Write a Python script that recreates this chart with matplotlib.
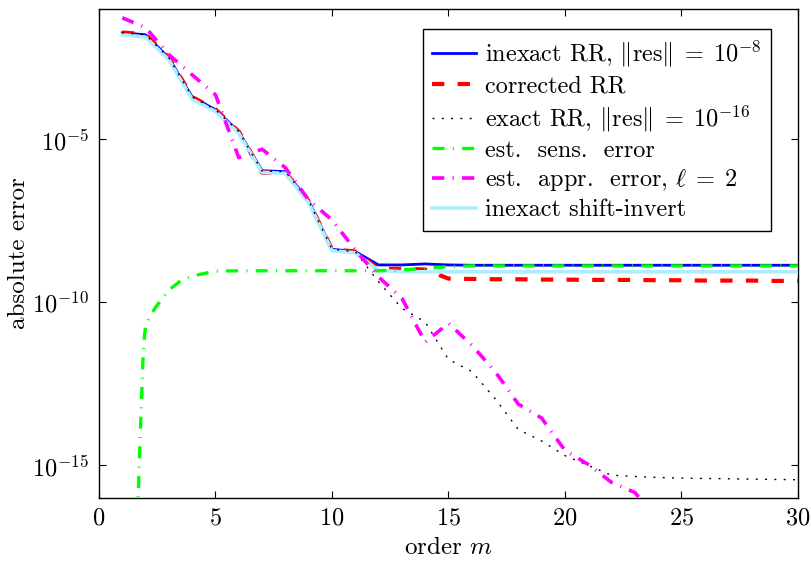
import numpy as np
import matplotlib
matplotlib.use("Agg")
import matplotlib.pyplot as plt
from matplotlib.ticker import NullLocator, LogFormatterMathtext

plt.rcParams['font.family'] = 'serif'
plt.rcParams['font.serif'] = ['cmr10']
plt.rcParams['mathtext.fontset'] = 'cm'
plt.rcParams['axes.formatter.use_mathtext'] = True

# ---- data (log10 of absolute error) ----
m = list(range(1, 31))

blue_log = [-1.73, -1.79, -2.50, -3.70, -4.09, -4.76, -5.96, -5.99, -6.88, -8.37,
            -8.44, -8.85, -8.85, -8.82, -8.85, -8.86, -8.86, -8.86, -8.86, -8.86,
            -8.86, -8.86, -8.86, -8.86, -8.86, -8.86, -8.86, -8.86, -8.86, -8.86]

red_log = [-1.72, -1.78, -2.49, -3.70, -4.08, -4.76, -6.02, -6.01, -6.90, -8.37,
           -8.44, -8.97, -8.97, -8.99, -9.27, -9.28, -9.29, -9.29, -9.30, -9.30,
           -9.31, -9.31, -9.31, -9.32, -9.32, -9.33, -9.33, -9.33, -9.34, -9.34]

black_log = [-1.73, -1.79, -2.50, -3.70, -4.09, -4.76, -5.97, -5.99, -6.88, -8.37,
             -8.44, -9.37, -10.18, -10.60, -11.75, -12.12, -12.95, -13.90, -14.25, -14.70,
             -15.00, -15.30, -15.34, -15.37, -15.39, -15.40, -15.41, -15.42, -15.43, -15.44]

green_m = [1.65, 1.8, 1.9, 1.95, 2.0, 2.2, 2.5, 3.0, 3.5, 4.0, 5.0, 6, 7, 8, 9, 10,
           11, 12, 13, 14, 15, 16, 17, 18, 19, 20, 21, 22, 23, 24, 25, 26, 27, 28, 29, 30]
green_log = [-16.6, -13.5, -11.53, -11.04, -10.73, -10.40, -10.08, -9.62, -9.34, -9.19, -9.04,
             -9.03, -9.03, -9.03, -9.03, -9.03, -9.03, -9.03, -9.00, -8.96, -8.90, -8.88,
             -8.88, -8.88, -8.88, -8.88, -8.88, -8.88, -8.88, -8.88, -8.88, -8.88, -8.88,
             -8.88, -8.88, -8.88]

magenta_m = list(range(1, 25))
magenta_log = [-1.27, -1.57, -2.40, -3.02, -3.63, -5.56, -5.30, -5.87, -6.86, -7.47,
               -8.39, -9.22, -9.87, -11.22, -10.64, -11.31, -12.12, -13.12, -13.55, -14.54,
               -14.97, -15.52, -15.83, -16.70]

lblue_log = [-1.79, -1.86, -2.56, -3.77, -4.14, -4.81, -6.01, -6.04, -6.94, -8.41,
             -8.48, -9.02, -9.06, -9.06, -9.06, -9.06, -9.06, -9.06, -9.06, -9.06,
             -9.06, -9.06, -9.06, -9.06, -9.06, -9.06, -9.06, -9.06, -9.06, -9.06]

labels = [r"inexact RR, $\Vert\mathrm{res}\Vert \;=\; 10^{-8}$",
          "corrected RR",
          r"exact RR, $\Vert\mathrm{res}\Vert \;=\; 10^{-16}$",
          "est.  sens.  error",
          r"est.  appr.  error, $\ell \;=\; 2$",
          "inexact shift-invert"]

x_ticks = [0, 5, 10, 15, 20, 25, 30]
y_ticks = [1e-15, 1e-10, 1e-5]

pw = lambda a: 10.0 ** np.asarray(a)

FS = 17.5

fig = plt.figure(figsize=(8.12, 5.66), dpi=100)
ax = fig.add_axes([0.1219, 0.1201, 0.8608, 0.8640])

h_blue, = ax.plot(m, pw(blue_log), color='#0000ff', lw=2.0, zorder=2)
h_red, = ax.plot(m, pw(red_log), color='#ff0000', lw=3.0,
                 linestyle=(0, (2.95, 3.2)), zorder=3)
h_lb, = ax.plot(m, pw(lblue_log), color='#aaeeff', lw=2.6, zorder=4)
h_black, = ax.plot(m, pw(black_log), color='black', lw=1.0,
                   linestyle=(0, (1.4, 5.3)), zorder=5)
h_green, = ax.plot(green_m, pw(green_log), color='#00ff00', lw=2.4,
                   linestyle=(0, (3.6, 2.5, 0.3, 2.5)), zorder=6)
h_mag, = ax.plot(magenta_m, pw(magenta_log), color='#ff00ff', lw=2.6,
                 linestyle=(0, (3.4, 2.3, 0.3, 2.3)), zorder=7)

ax.set_yscale('log')
ax.set_xlim(0, 30)
ax.set_ylim(1e-16, 1e-1)
ax.set_xticks(x_ticks)
ax.set_yticks(y_ticks)
ax.yaxis.set_major_formatter(LogFormatterMathtext())
ax.yaxis.set_minor_locator(NullLocator())
ax.tick_params(direction='in', top=True, right=True, length=5, width=0.8,
               labelsize=FS, pad=7)
for s in ax.spines.values():
    s.set_linewidth(1.0)

ax.set_xlabel(r"order $m$", fontsize=FS + 0.5, labelpad=5)
ax.set_ylabel("absolute error", fontsize=FS + 0.5, labelpad=2)

leg = ax.legend([h_blue, h_red, h_black, h_green, h_mag, h_lb], labels,
                loc='upper right', bbox_to_anchor=(0.9614, 0.9585),
                borderaxespad=0, fontsize=FS, fancybox=False, framealpha=1,
                edgecolor='black', handlelength=1.8, handletextpad=0.35,
                borderpad=0.4, labelspacing=0.24)
leg.get_frame().set_linewidth(1.0)

fig.savefig("out.png", dpi=100)
